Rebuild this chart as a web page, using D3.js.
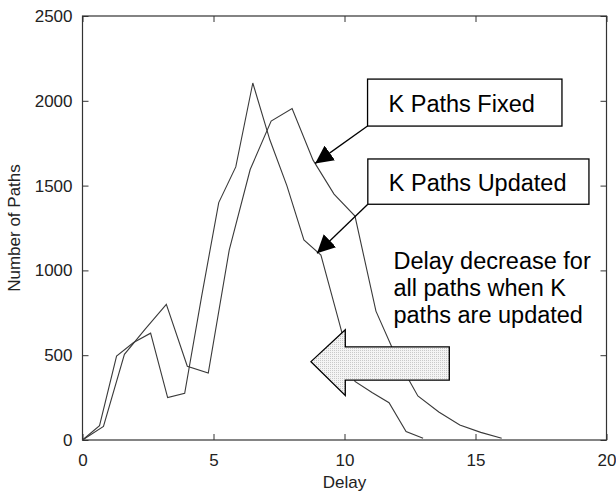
<!DOCTYPE html>
<html>
<head>
<meta charset="utf-8">
<script src="https://cdn.jsdelivr.net/npm/d3@7"></script>
<style>
  html, body { margin: 0; padding: 0; background: #fff; }
  svg { display: block; font-family: "Liberation Sans", Arial, sans-serif; }
</style>
</head>
<body>
<svg id="chart"></svg>
<script>
// K paths fixed: delay samples every 0.8
const fixedDelay = [0, 0.8, 1.6, 2.4, 3.2, 4.0, 4.8, 5.6, 6.4, 7.2, 8.0, 8.8, 9.6, 10.4, 11.2, 12.0, 12.8, 13.6, 14.4, 15.2, 16.0];
const fixedCount = [0, 80, 505, 655, 800, 435, 395, 1120, 1595, 1880, 1955, 1650, 1450, 1320, 760, 480, 260, 165, 88, 45, 10];

// K paths updated: delay samples every 0.65
const updatedDelay = [0, 0.65, 1.3, 1.95, 2.6, 3.25, 3.9, 4.55, 5.2, 5.85, 6.5, 7.15, 7.8, 8.45, 9.1, 9.75, 10.4, 11.05, 11.7, 12.35, 13.0];
const updatedCount = [0, 85, 495, 575, 630, 250, 275, 850, 1400, 1610, 2105, 1770, 1500, 1180, 1090, 720, 345, 280, 220, 50, 10];

const xTicks = [0, 5, 10, 15, 20];
const yTicks = [0, 500, 1000, 1500, 2000, 2500];

const W = 616, H = 493;
const margin = { top: 16, right: 9.5, bottom: 53, left: 82.5 };

const svg = d3.select("#chart").attr("width", W).attr("height", H);

const x = d3.scaleLinear().domain([0, 20]).range([margin.left, W - margin.right]);
const y = d3.scaleLinear().domain([0, 2500]).range([H - margin.bottom, margin.top]);

const axisColor = "#333";
const fmt = d3.format("d");

// axes, MATLAB style: ticks inward on all four sides
function styleAxis(g, showLabels) {
    g.select(".domain").remove();
    g.selectAll(".tick line").attr("stroke", axisColor);
    g.selectAll(".tick text")
        .attr("fill", "#222")
        .style("font-size", "17px")
        .style("display", showLabels ? null : "none");
}

svg.append("g")
    .attr("transform", `translate(0,${y(0)})`)
    .call(d3.axisBottom(x).tickValues(xTicks).tickFormat(fmt).tickSize(-6).tickPadding(14))
    .call(g => styleAxis(g, true));

svg.append("g")
    .attr("transform", `translate(0,${y(2500)})`)
    .call(d3.axisTop(x).tickValues(xTicks).tickSize(-6))
    .call(g => styleAxis(g, false));

svg.append("g")
    .attr("transform", `translate(${x(0)},0)`)
    .call(d3.axisLeft(y).tickValues(yTicks).tickFormat(fmt).tickSize(-6).tickPadding(10))
    .call(g => styleAxis(g, true));

svg.append("g")
    .attr("transform", `translate(${x(20)},0)`)
    .call(d3.axisRight(y).tickValues(yTicks).tickSize(-6))
    .call(g => styleAxis(g, false));

svg.append("rect")
    .attr("x", x(0)).attr("y", y(2500))
    .attr("width", x(20) - x(0)).attr("height", y(0) - y(2500))
    .attr("fill", "none").attr("stroke", axisColor).attr("stroke-width", 1.2);

// axis titles
svg.append("text")
    .attr("x", (x(0) + x(20)) / 2).attr("y", 488)
    .attr("text-anchor", "middle")
    .attr("fill", "#222").style("font-size", "17px")
    .text("Delay");

svg.append("text")
    .attr("transform", `translate(20,${(y(0) + y(2500)) / 2}) rotate(-90)`)
    .attr("text-anchor", "middle")
    .attr("fill", "#222").style("font-size", "17px")
    .text("Number of Paths");

// lines
const line = d3.line().x(d => x(d[0])).y(d => y(d[1]));

svg.append("path")
    .datum(d3.zip(fixedDelay, fixedCount))
    .attr("d", line)
    .attr("fill", "none").attr("stroke", "#3a3a3a").attr("stroke-width", 1.1);

svg.append("path")
    .datum(d3.zip(updatedDelay, updatedCount))
    .attr("d", line)
    .attr("fill", "none").attr("stroke", "#3a3a3a").attr("stroke-width", 1.1);

// annotations (positions in data units)
const defs = svg.append("defs");
defs.append("marker")
    .attr("id", "head")
    .attr("viewBox", "0 0 18 18")
    .attr("refX", 18).attr("refY", 9)
    .attr("markerWidth", 18).attr("markerHeight", 18)
    .attr("markerUnits", "userSpaceOnUse")
    .attr("orient", "auto")
    .append("path")
    .attr("d", "M0,0 L18,9 L0,18 Z")
    .attr("fill", "#000");

const dots = defs.append("pattern")
    .attr("id", "dots")
    .attr("width", 2).attr("height", 2)
    .attr("patternUnits", "userSpaceOnUse");
dots.append("rect").attr("width", 2).attr("height", 2).attr("fill", "#f4f4f4");
dots.append("rect").attr("width", 1).attr("height", 1).attr("fill", "#c9c9c9");

const labels = [
    { text: "K Paths Fixed", x0: 10.88, x1: 18.30, y0: 2128, y1: 1851, tipX: 8.88, tipY: 1631 },
    { text: "K Paths Updated", x0: 10.89, x1: 19.33, y0: 1657, y1: 1390, tipX: 8.95, tipY: 1101 }
];

labels.forEach(l => {
    svg.append("line")
        .attr("x1", x(l.x0)).attr("y1", y(l.y1))
        .attr("x2", x(l.tipX)).attr("y2", y(l.tipY))
        .attr("stroke", "#000").attr("stroke-width", 1.3)
        .attr("marker-end", "url(#head)");
    svg.append("rect")
        .attr("x", x(l.x0)).attr("y", y(l.y0))
        .attr("width", x(l.x1) - x(l.x0)).attr("height", y(l.y1) - y(l.y0))
        .attr("fill", "#fff").attr("stroke", "#000").attr("stroke-width", 1.3);
    svg.append("text")
        .attr("x", x(l.x0) + 21).attr("y", (y(l.y0) + y(l.y1)) / 2 + 9)
        .attr("fill", "#000").style("font-size", "23.5px")
        .text(l.text);
});

const note = ["Delay decrease for", "all paths when K", "paths are updated"];
svg.append("text")
    .attr("fill", "#000").style("font-size", "23.5px")
    .selectAll("tspan")
    .data(note)
    .join("tspan")
    .attr("x", x(11.87))
    .attr("y", (d, i) => 269 + i * 27)
    .text(d => d);

// big hollow arrow pointing left
const arrow = [
    [8.72, 462], [10.03, 650], [10.03, 549], [14.0, 549],
    [14.0, 353], [10.03, 353], [10.03, 262]
];
svg.append("path")
    .attr("d", d3.line().x(d => x(d[0])).y(d => y(d[1]))(arrow) + "Z")
    .attr("fill", "url(#dots)")
    .attr("stroke", "#000").attr("stroke-width", 1.3);
</script>
</body>
</html>
